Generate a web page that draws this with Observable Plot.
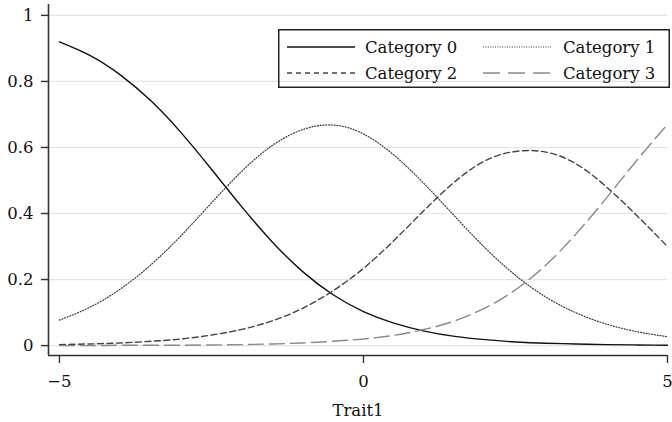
<!DOCTYPE html>
<html>
<head>
<meta charset="utf-8">
<script src="https://cdn.jsdelivr.net/npm/d3@7"></script>
<script src="https://cdn.jsdelivr.net/npm/@observablehq/plot@0.6"></script>
<style>
  html, body { margin: 0; padding: 0; background: #fff; }
  #chart { position: relative; width: 672px; height: 422px; font-family: "DejaVu Serif", serif; }
  #chart svg { display: block; }
  #legend { position: absolute; left: 278px; top: 29px; }
</style>
</head>
<body>
<div id="chart"></div>
<script>
// Trait values where each category probability is tabulated
const theta = [-5, -4.5, -4, -3.5, -3, -2.5, -2, -1.5, -1, -0.5, 0, 0.5, 1, 1.5, 2, 2.5, 3, 3.5, 4, 4.5, 5];

// Category response probabilities
const cat0 = [0.920, 0.879, 0.820, 0.742, 0.645, 0.534, 0.420, 0.314, 0.224, 0.154, 0.103, 0.068, 0.044, 0.028, 0.018, 0.011, 0.007, 0.005, 0.003, 0.002, 0.001];
const cat1 = [0.077, 0.116, 0.171, 0.244, 0.333, 0.432, 0.528, 0.606, 0.654, 0.668, 0.641, 0.577, 0.490, 0.392, 0.296, 0.213, 0.147, 0.099, 0.065, 0.042, 0.027];
const cat2 = [0.003, 0.005, 0.008, 0.013, 0.020, 0.032, 0.049, 0.075, 0.113, 0.166, 0.234, 0.318, 0.410, 0.496, 0.560, 0.588, 0.586, 0.550, 0.480, 0.393, 0.300];
const cat3 = [0.000, 0.000, 0.001, 0.001, 0.001, 0.002, 0.003, 0.005, 0.008, 0.013, 0.020, 0.031, 0.049, 0.075, 0.114, 0.169, 0.244, 0.339, 0.448, 0.562, 0.670];

const categories = ["Category 0", "Category 1", "Category 2", "Category 3"];
const series = [cat0, cat1, cat2, cat3];

// Axis ticks and extents
const xTicks = [-5, 0, 5];
const yTicks = [0, 0.2, 0.4, 0.6, 0.8, 1];
const xDomain = [-5.18, 5];
const yDomain = [-0.03, 1.033];
const xLabel = "Trait1";

// Line styling per category
const styles = {
  "Category 0": {stroke: "#111", dash: null, width: 1.4},
  "Category 1": {stroke: "#3a3a3a", dash: "1 1.8", width: 1.2},
  "Category 2": {stroke: "#444", dash: "6 3.5", width: 1.4},
  "Category 3": {stroke: "#8a8a8a", dash: "15 6", width: 1.4}
};

const rows = [];
categories.forEach((c, i) => theta.forEach((t, j) => rows.push({theta: t, p: series[i][j], category: c})));

const lineMarks = categories.map(c => Plot.line(rows.filter(d => d.category === c), {
  x: "theta", y: "p",
  stroke: styles[c].stroke,
  strokeWidth: styles[c].width,
  strokeDasharray: styles[c].dash,
  curve: "natural"
}));

const plot = Plot.plot({
  width: 672,
  height: 422,
  marginLeft: 48,
  marginRight: 5,
  marginTop: 4,
  marginBottom: 67,
  style: {fontFamily: "DejaVu Serif, serif", fontSize: "16.5px", color: "#111", background: "#fff"},
  x: {domain: xDomain},
  y: {domain: yDomain},
  marks: [
    Plot.gridY(yTicks, {stroke: "#e4e4e4", strokeOpacity: 1, strokeWidth: 1.2}),
    ...lineMarks,
    Plot.ruleX([xDomain[0]], {stroke: "#333", strokeWidth: 1.6}),
    Plot.ruleY([yDomain[0]], {stroke: "#333", strokeWidth: 1.6}),
    Plot.axisY(yTicks, {
      tickSize: 7, tickPadding: 8, tickFormat: d => String(d),
      stroke: "#333", strokeWidth: 1.4, label: null, fill: "#111"
    }),
    Plot.axisX(xTicks, {
      tickSize: 8, tickPadding: 12,
      tickFormat: d => d < 0 ? "\u2212" + Math.abs(d) : String(d),
      stroke: "#333", strokeWidth: 1.4, fill: "#111",
      label: xLabel, labelAnchor: "center", labelOffset: 60, labelArrow: "none"
    })
  ]
});

const chart = document.getElementById("chart");
chart.appendChild(plot);

// Legend: two columns, two rows, framed
const legendW = 392, legendH = 59;
const legend = d3.create("svg")
  .attr("id", "legend")
  .attr("width", legendW)
  .attr("height", legendH)
  .style("font-family", "DejaVu Serif, serif")
  .style("font-size", "16.5px");

legend.append("rect")
  .attr("x", 0.75).attr("y", 0.75)
  .attr("width", legendW - 1.5).attr("height", legendH - 1.5)
  .attr("fill", "none").attr("stroke", "#222").attr("stroke-width", 1.5);

const legendDash = {
  "Category 0": null,
  "Category 1": "1 1.4",
  "Category 2": "5 4",
  "Category 3": "17 8"
};
const cols = [{lx: 9, tx: 87}, {lx: 205, tx: 285}];
const rowY = [18, 44];

categories.forEach((c, i) => {
  const col = cols[i % 2], y = rowY[Math.floor(i / 2)];
  legend.append("line")
    .attr("x1", col.lx).attr("x2", col.lx + 68)
    .attr("y1", y).attr("y2", y)
    .attr("stroke", styles[c].stroke)
    .attr("stroke-width", i === 1 ? 1.1 : 1.4)
    .attr("stroke-dasharray", legendDash[c]);
  legend.append("text")
    .attr("x", col.tx).attr("y", y)
    .attr("dy", "0.35em")
    .attr("fill", "#111")
    .text(c);
});

chart.appendChild(legend.node());
</script>
</body>
</html>
